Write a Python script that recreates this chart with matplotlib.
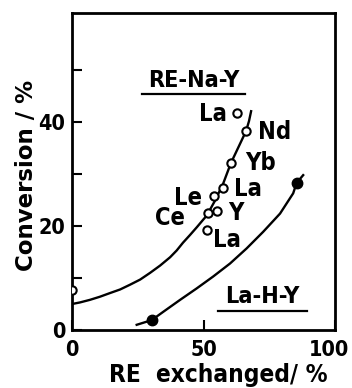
import matplotlib
matplotlib.use("Agg")
import matplotlib.pyplot as plt
import matplotlib.transforms as mtransforms
from matplotlib import font_manager as fm

# RE-Na-Y open points (RE exchanged %, conversion %)
na_x = [62.7, 66.2, 60.4, 57.4, 54.0, 51.8, 55.1, 51.2, 0.0]
na_y = [41.7, 38.3, 32.1, 27.3, 25.8, 22.5, 22.9, 19.2, 7.7]
na_lab = ["La", "Nd", "Yb", "La", "Le", "Ce", "Y", "La", ""]

# hand drawn curve through RE-Na-Y
na_cx = [0.0, 3.0, 6.8, 10.6, 14.4, 18.3, 22.0, 25.9, 29.7, 33.5, 37.3, 39.8, 42.2, 44.9,
         47.5, 50.0, 51.2, 54.5, 57.5, 60.4, 63.3, 66.2, 67.3, 68.1]
na_cy = [5.0, 5.3, 5.8, 6.4, 7.1, 7.8, 8.7, 9.7, 11.0, 12.4, 14.0, 15.3, 16.8, 18.3,
         19.8, 21.3, 22.0, 25.0, 28.2, 32.1, 35.2, 38.3, 40.2, 42.1]

# La-H-Y filled points
h_x = [30.3, 85.4]
h_y = [1.9, 28.3]

# curve through La-H-Y
h_cx = [24.6, 30.3, 34.7, 41.1, 47.4, 53.7, 60.1, 66.4, 72.7, 79.1, 84.1, 85.4, 87.9]
h_cy = [1.0, 1.9, 3.5, 5.8, 8.0, 10.3, 12.8, 15.7, 18.9, 22.4, 26.3, 28.3, 29.8]

has_cond = any(f.name == "DejaVu Sans" and str(f.stretch) == "condensed"
               for f in fm.fontManager.ttflist)
plt.rcParams["font.family"] = ["DejaVu Sans"]
plt.rcParams["font.weight"] = "bold"
plt.rcParams["axes.labelweight"] = "bold"
if has_cond:
    plt.rcParams["font.stretch"] = "condensed"
    fs = 15.5
else:
    fs = 13.5

fig = plt.figure(figsize=(3.52, 3.88), dpi=100)
ax = fig.add_axes([72/352, 1-330/388, (335-72)/352, (330-13)/388])
ax.set_xlim(0, 100)
ax.set_ylim(0, 61)

ax.plot(na_cx, na_cy, color="black", lw=1.7)
ax.plot(h_cx, h_cy, color="black", lw=1.7)
ax.plot(na_x, na_y, "o", ms=6, mfc="white", mec="black", mew=1.5, zorder=3)
ax.plot(h_x, h_y, "o", ms=7.5, color="black", zorder=3)

# label offsets in pixels from the point
offs = [(-10, -1, "right"), (12, -1, "left"), (14, 0, "left"), (11, -1, "left"),
        (-12, -2, "right"), (-23, -5, "right"), (11, -2, "left"), (6, -10, "left"), (0, 0, "left")]
for x, y, t, (dx, dy, ha) in zip(na_x, na_y, na_lab, offs):
    if t:
        ax.annotate(t, (x, y), xytext=(dx, dy), textcoords="offset pixels",
                    ha=ha, va="center", fontsize=fs + 1.5)

ax.text(46.4, 48.1, "RE-Na-Y", ha="center", va="center", fontsize=fs + 1.3)
ax.plot([26.6, 65.8], [45.4, 45.4], color="black", lw=1.6)
ax.text(72.2, 6.5, "La-H-Y", ha="center", va="center", fontsize=fs + 1.3)
ax.plot([55.5, 89.5], [3.65, 3.65], color="black", lw=1.6)

for s in ax.spines.values():
    s.set_linewidth(2)
ax.set_xticks([0, 50, 100])
ax.set_xticklabels(["0", "50", "100"])
ax.set_yticks([0, 10, 20, 30, 40, 50])
ax.set_yticklabels(["0", "", "20", "", "40", ""])
ax.tick_params(axis="both", direction="in", length=7, width=1.5, labelsize=fs)
ax.tick_params(axis="x", pad=7)
ax.tick_params(axis="y", pad=5)
lab100 = ax.get_xticklabels()[-1]
lab100.set_transform(lab100.get_transform() +
                     mtransforms.ScaledTranslation(-6/100, 0, fig.dpi_scale_trans))

ax.set_xlabel("RE  exchanged/ %", fontsize=fs + 2)
ax.xaxis.set_label_coords((218-72)/263, -(363-330)/317)
ax.set_ylabel("Conversion / %", fontsize=fs + 1, fontstretch="normal")
ax.yaxis.set_label_coords(-(72-38)/263, (330-175)/317)

fig.savefig("out.png", dpi=100)
